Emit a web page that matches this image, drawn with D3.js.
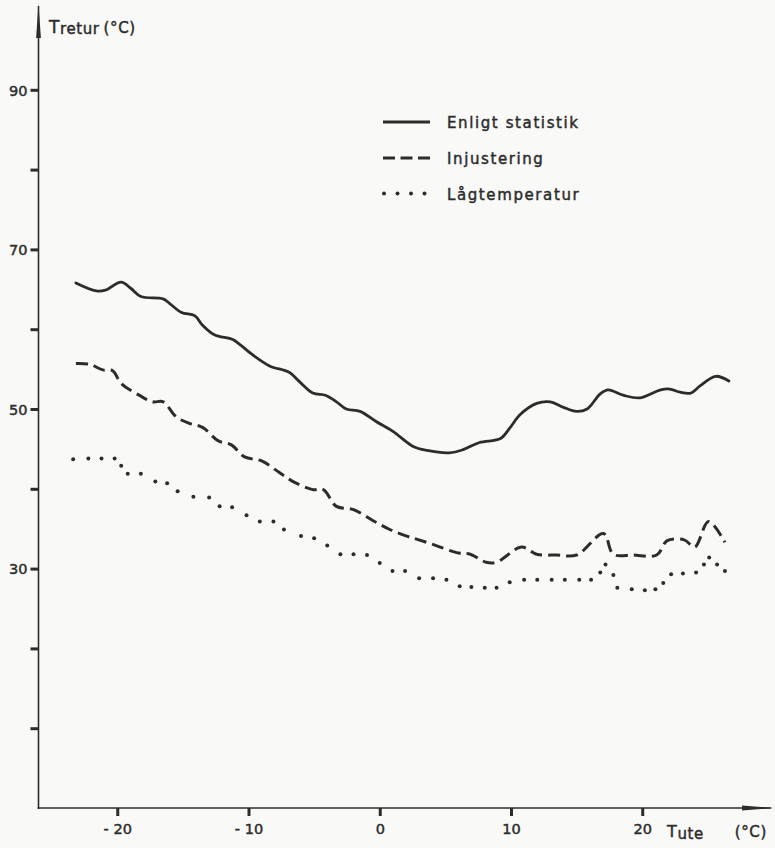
<!DOCTYPE html>
<html>
<head>
<meta charset="utf-8">
<script src="https://cdn.jsdelivr.net/npm/d3@7"></script>
<style>
  html, body { margin: 0; padding: 0; background: #f9f9f7; }
  svg { display: block; font-family: "DejaVu Sans", "Liberation Sans", sans-serif; }
</style>
</head>
<body>
<svg id="chart" width="775" height="848"></svg>
<script>
// Return temperature vs outdoor temperature, three operating strategies.

// Enligt statistik (solid)
const statistikTute = [-23.15, -21.6, -20.9, -19.7, -18.95, -18.2, -16.5, -16.0, -15.1, -14.1, -13.5, -12.6, -11.2, -10.6, -9.7, -8.4, -6.9, -6.1, -5.1, -4.1, -3.3, -2.55, -1.5, -0.25, 1.0, 2.55, 3.6, 5.3, 6.35, 7.6, 9.2, 9.9, 10.7, 11.96, 13.0, 14.0, 15.0, 15.8, 16.8, 17.4, 18.6, 19.85, 21.4, 22.1, 22.9, 23.7, 24.4, 25.6, 26.6];
const statistikTretur = [65.8, 64.8, 64.9, 65.9, 65.1, 64.1, 63.8, 63.2, 62.1, 61.7, 60.5, 59.3, 58.7, 58.0, 56.8, 55.4, 54.6, 53.4, 52.0, 51.7, 50.9, 50.0, 49.7, 48.4, 47.2, 45.3, 44.8, 44.5, 44.9, 45.8, 46.3, 47.6, 49.3, 50.7, 50.9, 50.2, 49.7, 50.0, 51.9, 52.4, 51.7, 51.4, 52.4, 52.5, 52.1, 52.0, 52.9, 54.1, 53.5];

// Injustering (dashed)
const injusteringTute = [-23.15, -22.1, -21.1, -20.35, -19.7, -18.3, -17.3, -16.5, -15.5, -14.5, -13.5, -12.3, -11.3, -10.3, -9.0, -7.7, -6.6, -5.1, -4.3, -3.3, -2.0, -0.5, 0.76, 2.0, 2.8, 4.1, 5.85, 6.9, 8.1, 8.9, 10.8, 11.95, 13.5, 15.0, 17.05, 17.8, 19.3, 21.1, 21.9, 23.2, 24.0, 25.05, 26.3];
const injusteringTretur = [55.7, 55.6, 54.9, 54.8, 53.2, 51.7, 50.9, 50.9, 49.0, 48.2, 47.7, 46.0, 45.5, 44.0, 43.5, 42.1, 40.9, 39.9, 39.9, 37.8, 37.4, 36.0, 34.9, 34.1, 33.7, 33.0, 32.0, 31.8, 30.8, 30.8, 32.7, 31.8, 31.7, 31.7, 34.4, 31.8, 31.7, 31.7, 33.5, 33.6, 32.7, 35.9, 33.3];

// Lågtemperatur (dotted, one dot per reading)
const lagtempTute = [-23.36, -22.2, -21.2, -20.2, -19.7, -19.2, -18.2, -17.1, -16.2, -15.4, -14.2, -13.0, -12.2, -11.25, -10.15, -9.14, -8.1, -7.3, -6.0, -5.0, -4.0, -3.0, -2.0, -0.97, 0.0, 0.97, 1.93, 3.0, 4.06, 5.08, 6.09, 6.98, 8.0, 8.9, 9.9, 11.0, 12.0, 13.1, 14.1, 15.2, 16.1, 16.8, 17.2, 17.8, 18.1, 19.2, 20.2, 21.0, 21.6, 22.2, 23.1, 24.1, 24.7, 25.1, 25.7, 26.3];
const lagtempTretur = [43.7, 43.8, 43.8, 43.8, 42.9, 41.9, 41.9, 40.9, 40.7, 39.7, 39.0, 38.9, 37.8, 37.7, 36.7, 35.9, 35.9, 34.9, 34.1, 33.8, 32.9, 31.8, 31.8, 31.7, 30.7, 29.7, 29.7, 28.8, 28.8, 28.6, 27.8, 27.7, 27.6, 27.6, 28.3, 28.6, 28.6, 28.6, 28.6, 28.6, 28.6, 29.5, 30.5, 29.2, 27.6, 27.4, 27.3, 27.4, 28.2, 29.3, 29.4, 29.5, 30.5, 31.4, 30.5, 29.7];

// Axis ticks
const xTicks = [-20, -10, 0, 10, 20];
const yTicks = [10, 20, 30, 40, 50, 60, 70, 80, 90];
const yLabelled = [30, 50, 70, 90];

const legendLabels = ["Enligt statistik", "Injustering", "Lågtemperatur"];

const ink = "#2c2c2c";
const svg = d3.select("#chart");

const x = d3.scaleLinear().domain([-26, 30]).range([38.5, 773.5]);
const y = d3.scaleLinear().domain([0, 100]).range([808, 10]);

const zip = (a, b) => a.map((t, i) => [t, b[i]]);

// text is drawn with a thin outline for a heavier, pen-lettered look
const inked = sel => sel.attr("fill", ink).attr("stroke", ink).attr("stroke-width", 0.45);

// ---- axes ----
const xAxis = svg.append("g")
  .attr("transform", `translate(0,${y(0)})`)
  .call(d3.axisBottom(x).tickValues(xTicks).tickSize(8).tickSizeOuter(0)
    .tickFormat(d => d < 0 ? "- " + Math.abs(d) : String(d)));
const yAxis = svg.append("g")
  .attr("transform", `translate(${x(-26)},0)`)
  .call(d3.axisLeft(y).tickValues(yTicks).tickSize(8).tickSizeOuter(0)
    .tickFormat(d => yLabelled.includes(d) ? String(d) : ""));

[xAxis, yAxis].forEach(g => {
  g.select(".domain").remove();
  g.selectAll(".tick line").attr("stroke", ink).attr("stroke-width", 3);
  g.selectAll(".tick text").call(inked).attr("font-size", 14.5)
    .attr("font-family", "DejaVu Sans, sans-serif");
});
xAxis.selectAll(".tick text").attr("dy", "1.05em");
yAxis.selectAll(".tick text").attr("x", -11).attr("dy", "0.36em");

// axis lines with arrowheads
const x0 = x(-26), yb = y(0);
svg.append("line").attr("x1", x0).attr("y1", yb + 1).attr("x2", x0).attr("y2", 6)
  .attr("stroke", ink).attr("stroke-width", 1.6);
svg.append("path").attr("d", `M${x0},4 L${x0 - 2.4},38 L${x0 + 2.4},38 Z`).attr("fill", ink);
svg.append("line").attr("x1", x0 - 0.8).attr("y1", yb).attr("x2", 771).attr("y2", yb)
  .attr("stroke", ink).attr("stroke-width", 1.6);
svg.append("path").attr("d", `M774,${yb} L742,${yb - 2.4} L742,${yb + 2.4} Z`).attr("fill", ink);

// axis titles
const yTitle = svg.append("text").attr("x", 49).attr("y", 33).call(inked)
  .attr("font-size", 15).attr("letter-spacing", 0.6);
yTitle.append("tspan").attr("font-size", 17).text("T");
yTitle.append("tspan").attr("dy", 1).text("retur");
yTitle.append("tspan").attr("dy", -1).attr("dx", 4).text("(°C)");

const xTitle = svg.append("text").attr("x", 667).attr("y", 837).call(inked)
  .attr("font-size", 15).attr("letter-spacing", 0.6);
xTitle.append("tspan").attr("font-size", 16).text("T");
xTitle.append("tspan").attr("dy", 2).text("ute");
xTitle.append("tspan").attr("dy", -2).attr("dx", 31).text("(°C)");

// ---- series ----
const line = d3.line().x(d => x(d[0])).y(d => y(d[1])).curve(d3.curveCatmullRom.alpha(0.5));

svg.append("path").datum(zip(statistikTute, statistikTretur))
  .attr("d", line).attr("fill", "none").attr("stroke", ink)
  .attr("stroke-width", 2.8).attr("stroke-linejoin", "round").attr("stroke-linecap", "round");

svg.append("path").datum(zip(injusteringTute, injusteringTretur))
  .attr("d", line).attr("fill", "none").attr("stroke", ink)
  .attr("stroke-width", 3).attr("stroke-dasharray", "12 6");

svg.append("g").selectAll("circle").data(zip(lagtempTute, lagtempTretur)).join("circle")
  .attr("cx", d => x(d[0])).attr("cy", d => y(d[1])).attr("r", 2).attr("fill", ink);

// ---- legend ----
const legend = svg.append("g").attr("transform", "translate(383,122)");
const rowGap = 36;
legend.append("line").attr("x1", 0).attr("x2", 47).attr("y1", 0).attr("y2", 0)
  .attr("stroke", ink).attr("stroke-width", 2.8);
legend.append("line").attr("x1", 0).attr("x2", 47).attr("y1", rowGap).attr("y2", rowGap)
  .attr("stroke", ink).attr("stroke-width", 3).attr("stroke-dasharray", "12 5.5");
legend.append("g").selectAll("circle").data([0, 1, 2, 3]).join("circle")
  .attr("cx", d => 1 + d * 13.5).attr("cy", rowGap * 2 - 0.5).attr("r", 2).attr("fill", ink);
legend.selectAll("text.lbl").data(legendLabels).join("text").attr("class", "lbl")
  .attr("x", 64).attr("y", (d, i) => i * rowGap + 5.5)
  .call(inked).attr("font-size", 15).attr("letter-spacing", 1.6)
  .text(d => d);
</script>
</body>
</html>
